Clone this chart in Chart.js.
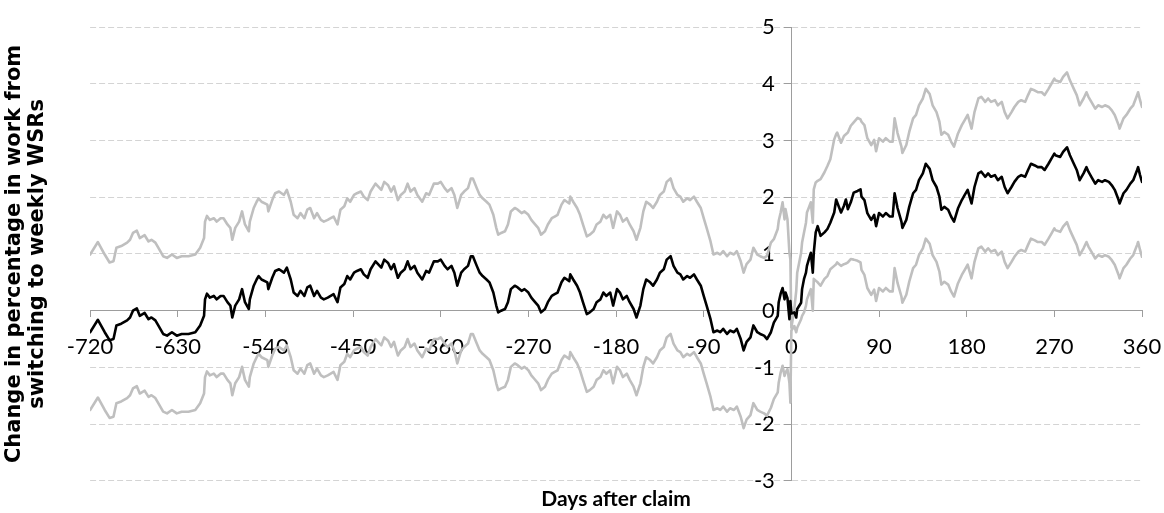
<!DOCTYPE html>
<html>
<head>
<meta charset="utf-8">
<script src="https://cdn.jsdelivr.net/npm/chart.js@4"></script>
<style>
  html, body { margin: 0; padding: 0; background: #ffffff; }
  #wrap { width: 1164px; height: 513px; }
</style>
</head>
<body>
<div id="wrap"><canvas id="chart" width="1164" height="513"></canvas></div>
<script>
// Days relative to the claim date
const days = [
  -720,-712,-705,-700,-696,-693,-688,-682,-679,-676,-672,-669,-664,-660,-657,-653,-650,-645,-641,-636,-631,-626,
  -619,-612,-607,-603,-602,-600,-597,-593,-590,-586,-583,-579,-576,-574,-571,-567,-564,-561,-557,-556,-552,-549,-547,-544,-538,-537,-533,-530,-526,
  -521,-518,-514,-511,-507,-504,-500,-497,-494,-490,-487,-483,-480,-476,-473,-470,-466,-463,-459,-456,-453,-449,-446,-442,-439,-435,-432,-427,
  -421,-418,-414,-411,-408,-404,-401,-397,-394,-391,-387,-384,-379,-375,-372,-367,-363,-360,-356,-353,-349,-346,-343,-339,-336,-332,-329,
  -327,-323,-320,-317,-313,-310,-306,-303,-301,-298,-294,-291,-288,-284,-281,-277,-274,-270,-267,-264,-260,-257,-253,-250,-246,-243,-240,-236,-233,-228,
  -227,-224,-220,-217,-214,-210,-207,-203,-200,-196,-193,-190,-186,-183,-179,-176,-173,-169,-166,-162,-159,-155,-152,-149,-145,-142,-138,-135,-131,
  -128,-124,-121,-117,-114,-111,-107,-104,-100,-97,-93,-90,-87,-83,-80,-76,-73,-70,-66,-63,-59,-56,-52,-49,-46,-42,-39,-35,-32,-28,
  -25,-21,-18,-14,-13,-11,-9,-7,-6,-4,-2,-1,0,3,5,6,10,11,13,15,16,18,20,22,23,25,27,30,34,37,40,44,46,47,51,54,56,58,61,64,68,71,
  72,75,78,82,85,87,90,94,97,101,104,106,109,113,114,118,121,125,128,131,135,138,142,145,149,152,154,157,161,164,167,171,
  175,178,181,185,188,192,195,199,202,205,209,212,216,219,222,226,229,233,236,240,243,246,250,253,257,260,264,267,270,
  271,276,279,283,286,290,293,296,300,303,305,308,312,315,319,322,326,329,332,336,337,341,344,348,351,355,356,358,360
];

// Point estimate (percentage points)
const estimate = [
  -0.38,-0.16,-0.38,-0.52,-0.50,-0.26,-0.23,-0.17,-0.12,0.00,0.04,-0.09,-0.04,-0.15,-0.12,-0.17,-0.26,-0.41,-0.44,-0.38,-0.44,-0.41,
  -0.41,-0.38,-0.26,-0.09,0.20,0.30,0.23,0.26,0.20,0.26,0.26,0.15,0.09,-0.12,0.09,0.20,0.38,0.15,0.03,0.20,0.44,0.55,0.61,0.55,0.50,0.38,0.58,0.70,0.73,
  0.67,0.76,0.55,0.32,0.26,0.35,0.26,0.41,0.44,0.26,0.35,0.23,0.20,0.23,0.26,0.29,0.15,0.41,0.47,0.61,0.55,0.67,0.70,0.73,0.64,0.58,0.73,0.87,
  0.76,0.90,0.84,0.73,0.82,0.58,0.67,0.73,0.87,0.73,0.79,0.67,0.55,0.70,0.67,0.87,0.87,0.90,0.79,0.73,0.79,0.67,0.44,0.67,0.73,0.79,0.96,
  0.96,0.79,0.67,0.61,0.55,0.50,0.32,0.09,-0.03,0.00,0.03,0.15,0.38,0.44,0.41,0.35,0.38,0.32,0.23,0.17,0.09,-0.03,0.03,0.15,0.26,0.29,0.32,0.50,0.58,0.52,
  0.64,0.55,0.44,0.32,0.15,-0.06,-0.03,0.03,0.15,0.20,0.32,0.26,0.32,0.09,0.38,0.32,0.20,0.26,0.15,0.03,-0.12,0.09,0.38,0.55,0.50,0.44,0.55,0.67,0.73,
  0.90,0.96,0.79,0.67,0.64,0.55,0.61,0.58,0.64,0.55,0.44,0.26,0.09,-0.15,-0.38,-0.35,-0.38,-0.32,-0.41,-0.35,-0.38,-0.32,-0.50,-0.70,-0.55,-0.47,-0.26,-0.38,-0.41,-0.44,
  -0.50,-0.38,-0.21,-0.09,0.15,0.30,0.40,0.20,0.32,0.22,-0.15,0.17,-0.05,-0.03,-0.12,0.03,0.14,0.38,0.56,0.67,0.79,0.91,1.02,0.67,1.02,1.38,1.49,1.32,1.38,1.44,1.55,1.73,1.96,1.91,1.73,1.85,1.96,1.79,1.91,2.08,2.11,2.14,
  2.01,1.95,1.72,1.60,1.69,1.49,1.72,1.66,1.72,1.66,1.66,2.07,1.81,1.57,1.46,1.60,1.83,2.07,2.13,2.30,2.42,2.59,2.50,2.30,2.18,2.01,1.78,1.83,1.78,1.66,1.57,1.80,
  1.95,2.04,2.13,1.89,2.18,2.42,2.45,2.36,2.42,2.36,2.39,2.30,2.36,2.18,2.07,2.18,2.27,2.36,2.39,2.36,2.48,2.59,2.56,2.53,2.53,2.48,2.59,2.68,2.77,
  2.74,2.71,2.80,2.88,2.74,2.59,2.48,2.30,2.42,2.53,2.45,2.36,2.24,2.30,2.27,2.30,2.27,2.21,2.13,1.95,1.89,2.07,2.13,2.24,2.30,2.48,2.53,2.39,2.27
];

// Upper bound of the confidence band
const upperBound = [
  0.99,1.21,0.99,0.85,0.87,1.11,1.14,1.20,1.25,1.37,1.41,1.28,1.33,1.22,1.25,1.20,1.11,0.96,0.93,0.99,0.93,0.96,
  0.96,0.99,1.11,1.28,1.57,1.67,1.60,1.63,1.57,1.63,1.63,1.52,1.46,1.25,1.46,1.57,1.75,1.52,1.40,1.57,1.81,1.92,1.98,1.92,1.87,1.75,1.95,2.07,2.10,
  2.04,2.13,1.92,1.69,1.63,1.72,1.63,1.78,1.81,1.63,1.72,1.60,1.57,1.60,1.63,1.66,1.52,1.78,1.84,1.98,1.92,2.04,2.07,2.10,2.01,1.95,2.10,2.24,
  2.13,2.27,2.21,2.10,2.19,1.95,2.04,2.10,2.24,2.10,2.16,2.04,1.92,2.07,2.04,2.24,2.24,2.27,2.16,2.10,2.16,2.04,1.81,2.04,2.10,2.16,2.33,
  2.33,2.16,2.04,1.98,1.92,1.87,1.69,1.46,1.34,1.37,1.40,1.52,1.75,1.81,1.78,1.72,1.75,1.69,1.60,1.54,1.46,1.34,1.40,1.52,1.63,1.66,1.69,1.87,1.95,1.89,
  2.01,1.92,1.81,1.69,1.52,1.31,1.34,1.40,1.52,1.57,1.69,1.63,1.69,1.46,1.75,1.69,1.57,1.63,1.52,1.40,1.25,1.46,1.75,1.92,1.87,1.81,1.92,2.04,2.10,
  2.27,2.33,2.16,2.04,2.01,1.92,1.98,1.95,2.01,1.92,1.81,1.63,1.46,1.22,0.99,1.02,0.99,1.05,0.96,1.02,0.99,1.05,0.87,0.67,0.82,0.90,1.11,0.99,0.96,0.93,
  0.97,1.20,1.26,1.44,1.58,1.73,1.91,1.61,1.79,1.61,1.02,0.90,-0.30,0.03,0.35,0.67,1.02,1.20,1.38,1.55,1.73,1.82,1.91,1.55,2.14,2.26,2.29,2.32,2.44,2.55,2.67,3.02,3.11,3.14,2.96,3.08,3.11,3.14,3.26,3.32,3.40,3.37,
  3.33,3.27,3.04,2.92,3.01,2.81,3.04,2.98,3.04,2.98,2.98,3.39,3.13,2.89,2.78,2.92,3.15,3.39,3.45,3.62,3.74,3.91,3.82,3.62,3.50,3.33,3.10,3.15,3.10,2.98,2.89,3.12,
  3.27,3.36,3.45,3.21,3.50,3.74,3.77,3.68,3.74,3.68,3.71,3.62,3.68,3.50,3.39,3.50,3.59,3.68,3.71,3.68,3.80,3.91,3.88,3.85,3.85,3.80,3.91,4.00,4.09,
  4.06,4.03,4.12,4.20,4.06,3.91,3.80,3.62,3.74,3.85,3.77,3.68,3.56,3.62,3.59,3.62,3.59,3.53,3.45,3.27,3.21,3.39,3.45,3.56,3.62,3.80,3.85,3.71,3.59
];

// Lower bound of the confidence band
const lowerBound = [
  -1.75,-1.53,-1.75,-1.89,-1.87,-1.63,-1.60,-1.54,-1.49,-1.37,-1.33,-1.46,-1.41,-1.52,-1.49,-1.54,-1.63,-1.78,-1.81,-1.75,-1.81,-1.78,
  -1.78,-1.75,-1.63,-1.46,-1.17,-1.07,-1.14,-1.11,-1.17,-1.11,-1.11,-1.22,-1.28,-1.49,-1.28,-1.17,-0.99,-1.22,-1.34,-1.17,-0.93,-0.82,-0.76,-0.82,-0.87,-0.99,-0.79,-0.67,-0.64,
  -0.70,-0.61,-0.82,-1.05,-1.11,-1.02,-1.11,-0.96,-0.93,-1.11,-1.02,-1.14,-1.17,-1.14,-1.11,-1.08,-1.22,-0.96,-0.90,-0.76,-0.82,-0.70,-0.67,-0.64,-0.73,-0.79,-0.64,-0.50,
  -0.61,-0.47,-0.53,-0.64,-0.55,-0.79,-0.70,-0.64,-0.50,-0.64,-0.58,-0.70,-0.82,-0.67,-0.70,-0.50,-0.50,-0.47,-0.58,-0.64,-0.58,-0.70,-0.93,-0.70,-0.64,-0.58,-0.41,
  -0.41,-0.58,-0.70,-0.76,-0.82,-0.87,-1.05,-1.28,-1.40,-1.37,-1.34,-1.22,-0.99,-0.93,-0.96,-1.02,-0.99,-1.05,-1.14,-1.20,-1.28,-1.40,-1.34,-1.22,-1.11,-1.08,-1.05,-0.87,-0.79,-0.85,
  -0.73,-0.82,-0.93,-1.05,-1.22,-1.43,-1.40,-1.34,-1.22,-1.17,-1.05,-1.11,-1.05,-1.28,-0.99,-1.05,-1.17,-1.11,-1.22,-1.34,-1.49,-1.28,-0.99,-0.82,-0.87,-0.93,-0.82,-0.70,-0.64,
  -0.47,-0.41,-0.58,-0.70,-0.73,-0.82,-0.76,-0.79,-0.73,-0.82,-0.93,-1.11,-1.28,-1.52,-1.75,-1.72,-1.75,-1.69,-1.78,-1.72,-1.75,-1.69,-1.87,-2.07,-1.92,-1.84,-1.63,-1.75,-1.78,-1.81,
  -1.85,-1.71,-1.56,-1.44,-1.27,-1.09,-0.97,-1.15,-1.09,-1.03,-1.27,-1.62,-0.35,-0.27,-0.38,-0.30,-0.15,-0.09,-0.03,0.09,0.20,0.29,0.38,0.00,0.56,0.53,0.50,0.44,0.56,0.61,0.73,0.79,0.82,0.85,0.79,0.82,0.83,0.85,0.91,0.90,0.88,0.85,
  0.72,0.63,0.40,0.28,0.37,0.17,0.40,0.34,0.40,0.34,0.34,0.75,0.49,0.25,0.14,0.28,0.51,0.75,0.81,0.98,1.10,1.27,1.18,0.98,0.86,0.69,0.46,0.51,0.46,0.34,0.25,0.48,
  0.63,0.72,0.81,0.57,0.86,1.10,1.13,1.04,1.10,1.04,1.07,0.98,1.04,0.86,0.75,0.86,0.95,1.04,1.07,1.04,1.16,1.27,1.24,1.21,1.21,1.16,1.27,1.36,1.45,
  1.42,1.39,1.48,1.56,1.42,1.27,1.16,0.98,1.10,1.21,1.13,1.04,0.92,0.98,0.95,0.98,0.95,0.89,0.81,0.63,0.57,0.75,0.81,0.92,0.98,1.16,1.21,1.07,0.95
];

// Axis tick values
const xTickValues = [-720, -630, -540, -450, -360, -270, -180, -90, 0, 90, 180, 270, 360];
const yTickValues = [-3, -2, -1, 0, 1, 2, 3, 4, 5];

const yTitle = ['Change in percentage in work from', 'switching to weekly WSRs'];
const xTitle = 'Days after claim';

const FONT = "Lato, 'Open Sans', 'DejaVu Sans', sans-serif";
const TITLE_FONT = "'DejaVu Sans', Lato, sans-serif";
const AXIS_GREY = '#9d9d9d';
// em space keeps the value labels clear of the vertical axis line
const LABEL_GAP = '\u2003';

const toPoints = vals => days.map((d, i) => ({ x: d, y: vals[i] }));

new Chart(document.getElementById('chart'), {
  type: 'line',
  data: {
    datasets: [
      { label: 'Estimate', data: toPoints(estimate), borderColor: '#000000', borderWidth: 2.6 },
      { label: 'Upper', data: toPoints(upperBound), borderColor: '#bfbfbf', borderWidth: 2.6 },
      { label: 'Lower', data: toPoints(lowerBound), borderColor: '#bfbfbf', borderWidth: 2.6 }
    ]
  },
  options: {
    responsive: false,
    animation: false,
    devicePixelRatio: 1,
    layout: { padding: { left: 0, right: 22, top: 27, bottom: 0 } },
    elements: {
      point: { radius: 0, hoverRadius: 0 },
      line: { tension: 0, fill: false, borderJoinStyle: 'round', borderCapStyle: 'round' }
    },
    plugins: {
      legend: { display: false },
      tooltip: { enabled: false },
      title: {
        display: true,
        position: 'left',
        fullSize: false,
        text: yTitle,
        color: '#000000',
        font: { family: TITLE_FONT, size: 21, weight: 'bold', lineHeight: 1.05 },
        padding: { top: 4, bottom: 42 }
      },
      subtitle: {
        display: true,
        position: 'bottom',
        fullSize: false,
        text: xTitle,
        color: '#000000',
        font: { family: FONT, size: 21, weight: 'bold', lineHeight: 1.1 },
        padding: { top: 7, bottom: 2 }
      }
    },
    scales: {
      x: {
        type: 'linear',
        position: { y: 0 },
        min: -720,
        max: 360,
        // the axis sits inside the plot, so it reserves no room of its own
        afterFit: s => { s.height = 0; s.paddingLeft = 0; s.paddingRight = 0; },
        afterBuildTicks: s => { s.ticks = xTickValues.map(v => ({ value: v })); },
        grid: { drawOnChartArea: false, drawTicks: true, tickLength: 6, tickColor: AXIS_GREY },
        border: { color: AXIS_GREY, width: 1 },
        ticks: { color: '#000000', font: { family: FONT, size: 22 }, padding: 17, maxRotation: 0, autoSkip: false }
      },
      y: {
        type: 'linear',
        position: { x: 0 },
        min: -3,
        max: 5,
        afterFit: s => { s.width = 0; s.paddingTop = 0; s.paddingBottom = 0; },
        afterBuildTicks: s => { s.ticks = yTickValues.map(v => ({ value: v })); },
        grid: {
          color: ctx => (ctx.tick && ctx.tick.value === 0 ? 'rgba(0,0,0,0)' : '#d4d4d4'),
          tickColor: AXIS_GREY,
          tickLength: 7
        },
        border: { color: AXIS_GREY, width: 1, dash: [6, 3] },
        ticks: {
          color: '#000000',
          font: { family: FONT, size: 22 },
          callback: v => String(v) + LABEL_GAP
        }
      }
    }
  }
});
</script>
</body>
</html>
